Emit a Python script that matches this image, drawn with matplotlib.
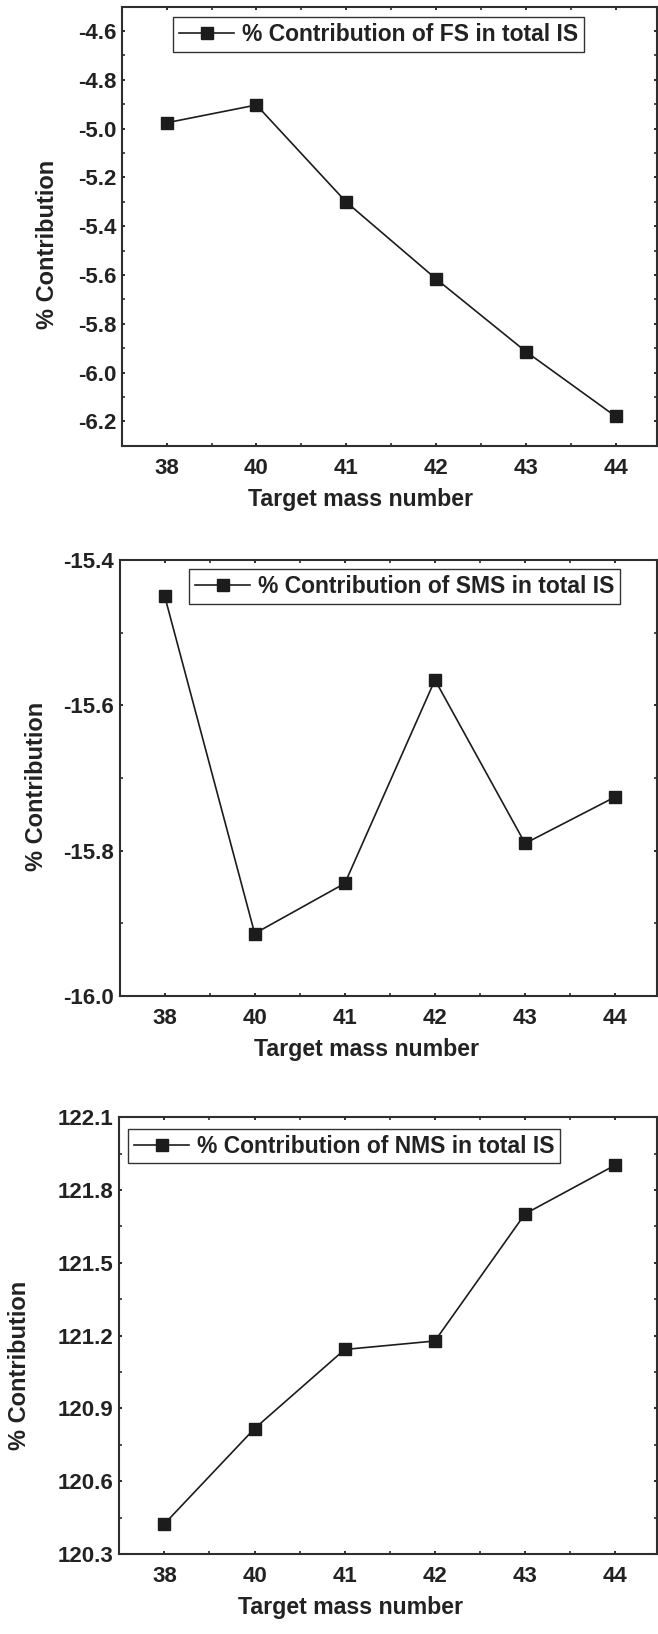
import matplotlib
matplotlib.use("Agg")
import matplotlib.pyplot as plt
from matplotlib.ticker import MultipleLocator, FixedLocator, FormatStrFormatter

plt.rcParams['font.family'] = ['Liberation Sans', 'DejaVu Sans']
plt.rcParams['font.weight'] = 'bold'

# valores
massas = ['38', '40', '41', '42', '43', '44']
contrib_fs = [-4.976, -4.903, -5.301, -5.616, -5.914, -6.180]
contrib_sms = [-15.449, -15.914, -15.845, -15.565, -15.790, -15.726]
contrib_nms = [120.424, 120.817, 121.143, 121.178, 121.702, 121.903]

legendas = ['% Contribution of FS in total IS',
            '% Contribution of SMS in total IS',
            '% Contribution of NMS in total IS']

W, H = 658, 1634
COR = '#1c1c1c'
EIXO = '#2e2e2e'
TEXTO = '#222222'

fig = plt.figure(figsize=(W / 100, H / 100), dpi=100)

# (esq, dir, topo, base) em pixeis, limites y, passo maior, passo menor,
# canto da legenda, ancora do titulo y (px), centro x do titulo x (px)
paineis = [
    (121.7, 657.0, 6.7, 445.7, (-6.3, -4.5), 0.2, 0.1, (173.3, 17.3), (58.6, 244.7), 360),
    (119.5, 656.7, 560.0, 996.0, (-16.0, -15.4), 0.2, 0.1, (189.3, 569.3), (48.3, 786.7), 366),
    (119.3, 656.7, 1117.3, 1554.0, (120.3, 122.1), 0.3, 0.15, (128.3, 1129.0), (31.3, 1365.0), 350),
]
series = [contrib_fs, contrib_sms, contrib_nms]

for (esq, dir_, topo, base, ylim, maior, menor, leg_xy, ylab_xy, xlab_x), valores, rotulo in zip(paineis, series, legendas):
    larg, alt = dir_ - esq, base - topo
    ax = fig.add_axes([esq / W, 1 - base / H, larg / W, alt / H])
    x = list(range(len(massas)))
    ax.plot(x, valores, color=COR, lw=1.2, marker='s', ms=9,
            mfc=COR, mec=COR, label=rotulo)

    ax.set_xlim(-0.5, 5.46)
    ax.set_ylim(*ylim)
    ax.set_xticks(x)
    ax.set_xticklabels(massas)
    ax.xaxis.set_minor_locator(FixedLocator([i + 0.5 for i in range(-1, 6)]))
    ax.yaxis.set_major_locator(MultipleLocator(maior))
    ax.yaxis.set_minor_locator(MultipleLocator(menor))
    ax.yaxis.set_major_formatter(FormatStrFormatter('%.1f'))

    for s in ax.spines.values():
        s.set_linewidth(1.5)
        s.set_color(EIXO)

    ax.tick_params(axis='both', which='major', direction='out', length=5.8,
                   width=1.4, color=EIXO, labelsize=16, labelcolor=TEXTO)
    ax.tick_params(axis='x', which='major', pad=9)
    ax.tick_params(axis='y', which='major', pad=4)
    ax.tick_params(axis='both', which='minor', direction='out', length=2.5,
                   width=1.2, color=EIXO)
    ax.tick_params(top=True, right=True, which='both', direction='in', length=2)
    ax.tick_params(labeltop=False, labelright=False)

    ax.set_xlabel('Target mass number', fontsize=16.7, fontweight='bold',
                  color=TEXTO, labelpad=6)
    ax.xaxis.label.set_x((xlab_x - esq) / larg)
    ax.set_ylabel('% Contribution', fontsize=17, fontweight='bold', color=TEXTO)
    ax.yaxis.set_label_coords((ylab_xy[0] - esq) / larg, 1 - (ylab_xy[1] - topo) / alt)

    leg = ax.legend(loc='upper left', bbox_to_anchor=(leg_xy[0] / W, 1 - leg_xy[1] / H),
                    bbox_transform=fig.transFigure, borderaxespad=0,
                    fontsize=16.5, frameon=True, fancybox=False, framealpha=1,
                    edgecolor='#333333', handlelength=2.4, handletextpad=0.35,
                    borderpad=0.25, markerscale=1.0)
    leg.get_frame().set_linewidth(1.0)
    for t in leg.get_texts():
        t.set_color(TEXTO)

fig.savefig('out.png', dpi=100, facecolor='white')
